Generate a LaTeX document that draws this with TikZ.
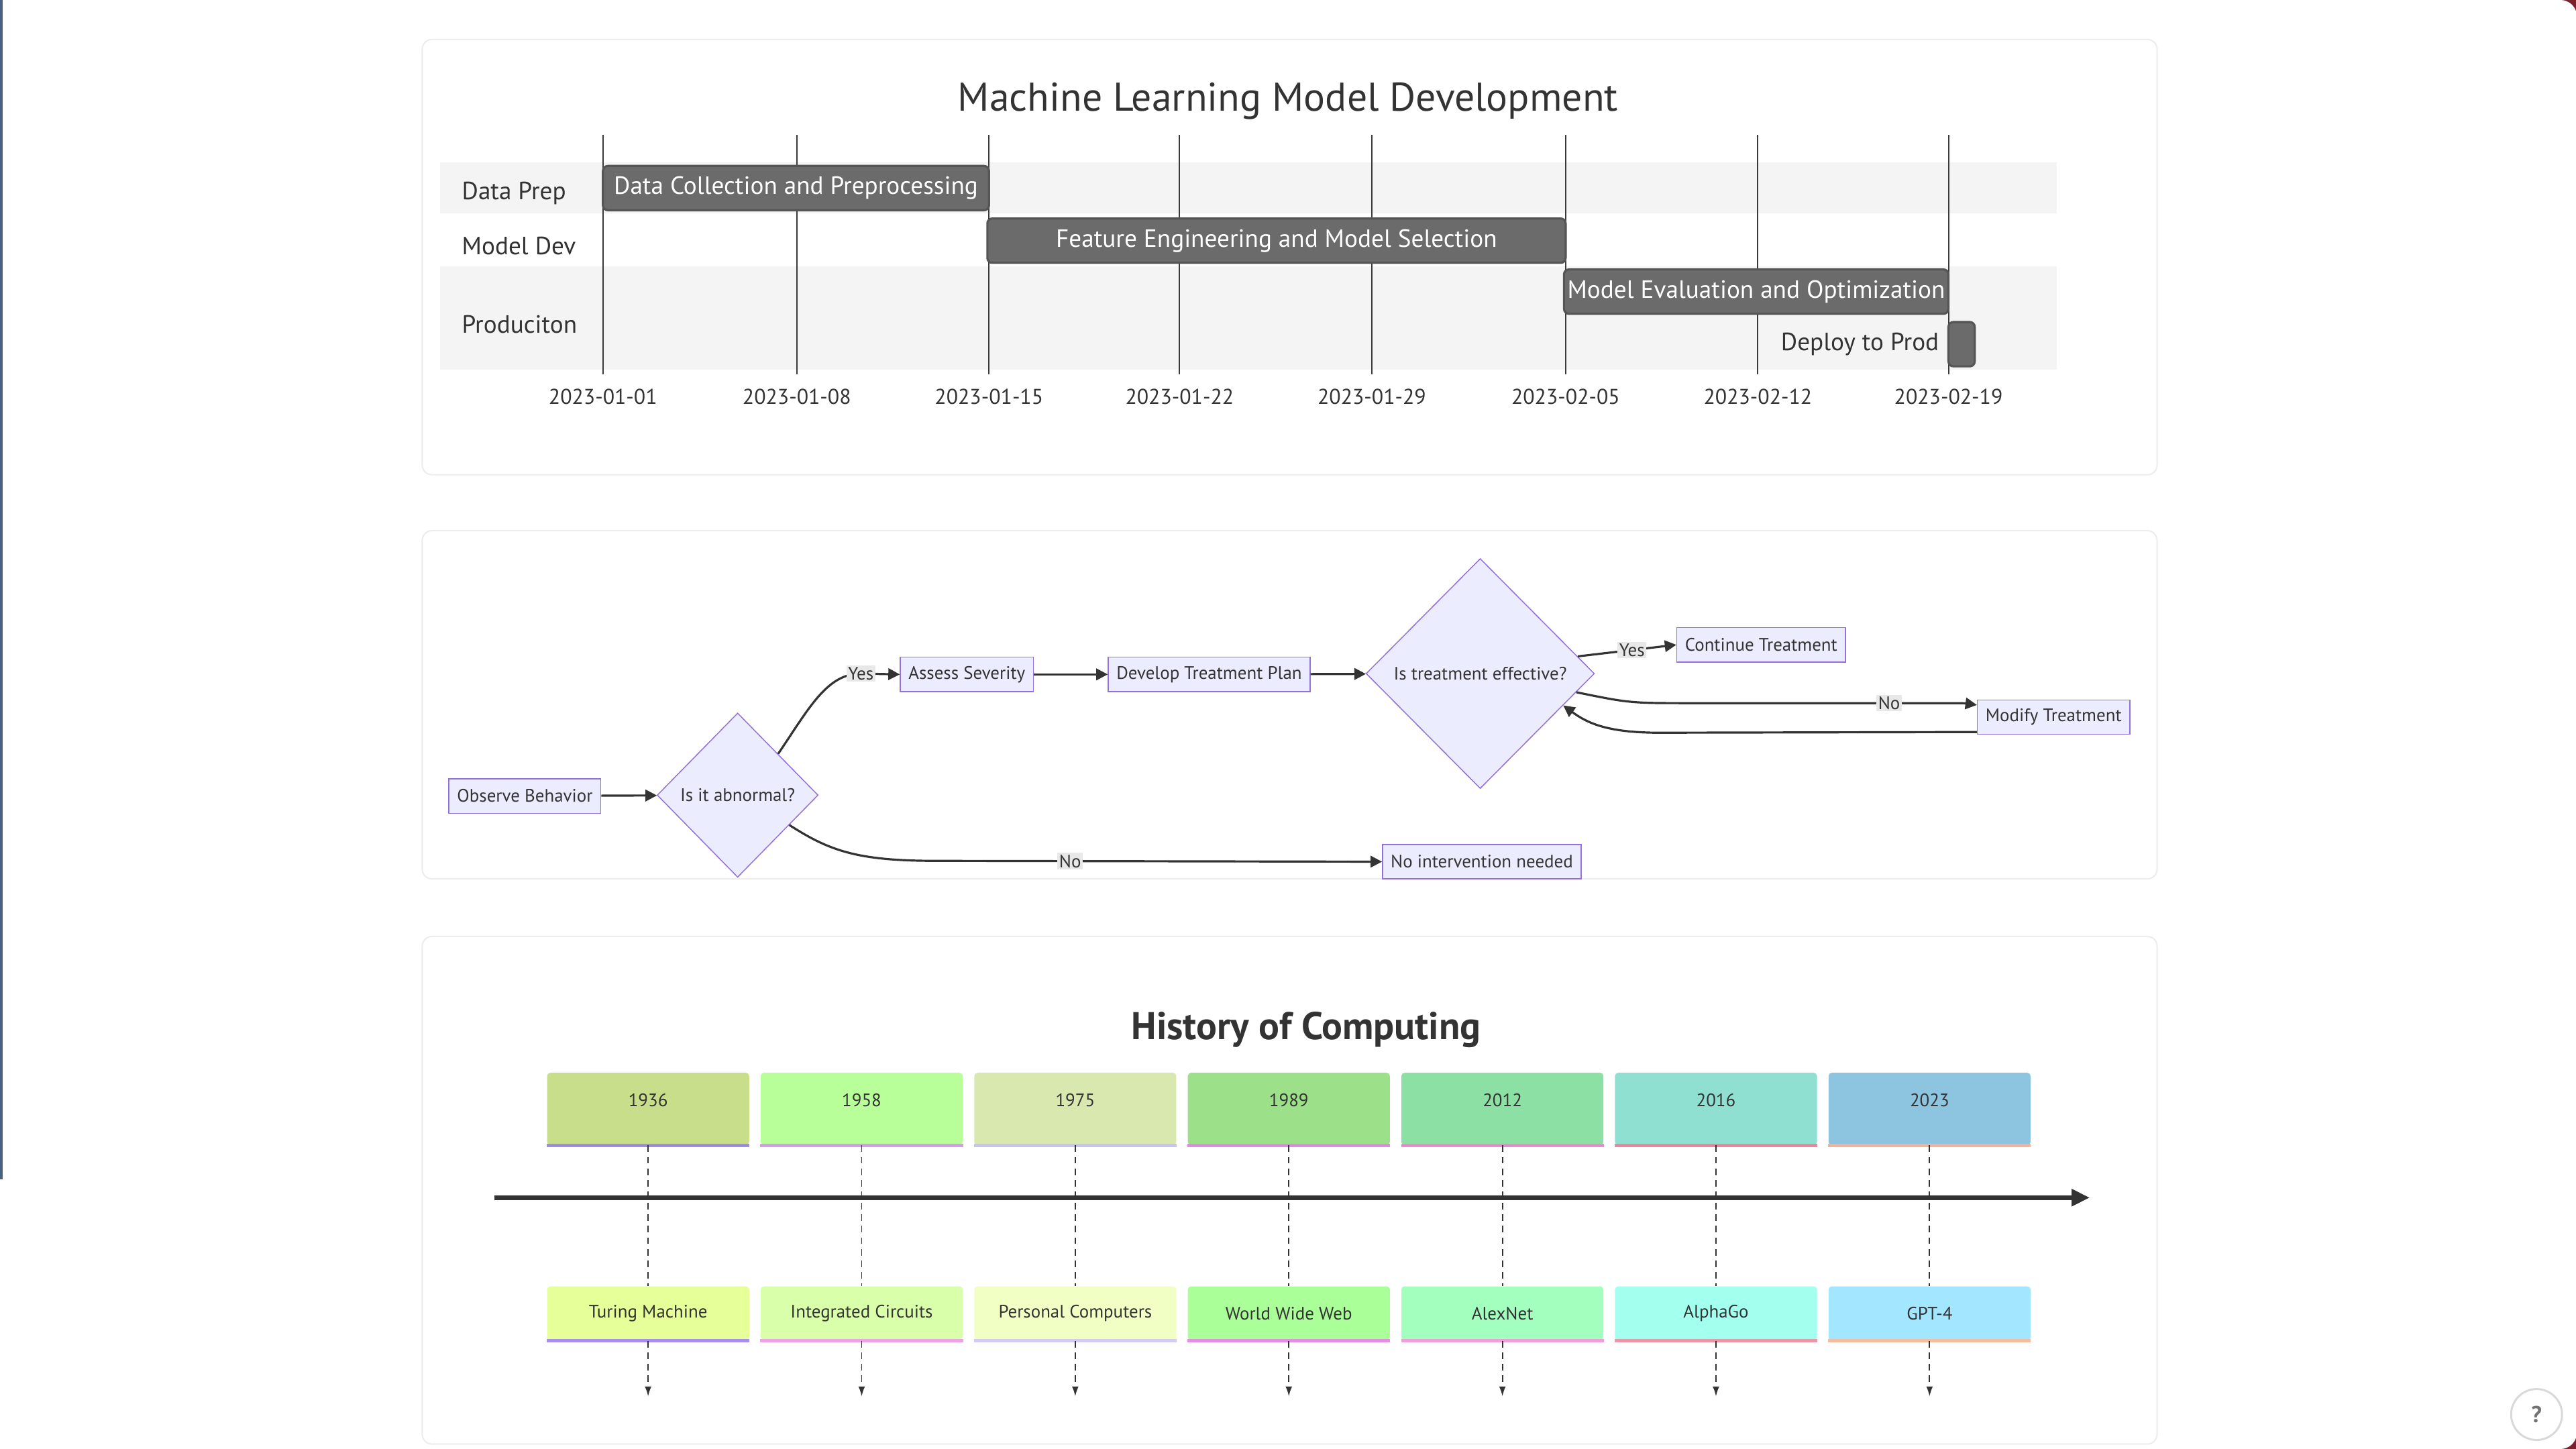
\documentclass[tikz,border=0pt]{standalone}
\usepackage{fontspec}
\setmainfont{PT Sans}
\usepackage{tikz}
\usetikzlibrary{shapes.geometric,arrows.meta,positioning,calc}
\definecolor{ink}{HTML}{333333}
\definecolor{band}{HTML}{F4F4F4}
\definecolor{panelln}{HTML}{ECECEC}
\definecolor{barfill}{HTML}{6B6B6B}
\definecolor{barline}{HTML}{555555}
\definecolor{gridln}{HTML}{3A3A3A}
\definecolor{mmfill}{HTML}{ECECFF}
\definecolor{mmline}{HTML}{9370DB}
\definecolor{lblbg}{HTML}{E8E8E8}
\definecolor{edgeblue}{HTML}{4A6080}
\definecolor{cornerred}{HTML}{7A1F2B}
% timeline colours: year box, year rule, event box, event rule
\definecolor{yr1}{HTML}{C8DE8A}\definecolor{yl1}{HTML}{9E8EE0}\definecolor{ev1}{HTML}{E6FF99}\definecolor{el1}{HTML}{A78EF0}
\definecolor{yr2}{HTML}{B9FF99}\definecolor{yl2}{HTML}{D79EE8}\definecolor{ev2}{HTML}{D9FFAA}\definecolor{el2}{HTML}{F0A2E8}
\definecolor{yr3}{HTML}{D8E8AE}\definecolor{yl3}{HTML}{C8C4EE}\definecolor{ev3}{HTML}{F2FFC4}\definecolor{el3}{HTML}{D4CCF4}
\definecolor{yr4}{HTML}{9DE08A}\definecolor{yl4}{HTML}{DA8EDD}\definecolor{ev4}{HTML}{AAFF99}\definecolor{el4}{HTML}{E68EE6}
\definecolor{yr5}{HTML}{8DE0A4}\definecolor{yl5}{HTML}{E68ECB}\definecolor{ev5}{HTML}{A3FFBE}\definecolor{el5}{HTML}{F09EDC}
\definecolor{yr6}{HTML}{8FE0D0}\definecolor{yl6}{HTML}{E6889E}\definecolor{ev6}{HTML}{A3FFEE}\definecolor{el6}{HTML}{E896A8}
\definecolor{yr7}{HTML}{8DC4E0}\definecolor{yl7}{HTML}{F0B49A}\definecolor{ev7}{HTML}{A3E6FF}\definecolor{el7}{HTML}{F6BCA0}
\tikzset{
  panel/.style={draw=panelln,fill=white,line width=0.8pt,rounded corners=6pt},
  sect/.style={font=\fontsize{15.2}{17}\selectfont,text=ink,inner sep=0pt},
  datelbl/.style={font=\fontsize{13}{15}\selectfont,text=ink,inner sep=0pt},
  bar/.style={rectangle,rounded corners=3pt,fill=barfill,draw=barline,line width=1.3pt,
              minimum height=27,inner xsep=0pt,text=white,font=\fontsize{15.2}{17}\selectfont},
  fbox/.style={rectangle,draw=mmline,fill=mmfill,line width=0.6pt,minimum height=21,
               inner xsep=5pt,inner ysep=0pt,font=\fontsize{11}{13}\selectfont,text=ink},
  fdec/.style={diamond,draw=mmline,fill=mmfill,line width=0.6pt,inner sep=0pt,
               font=\fontsize{11}{13}\selectfont,text=ink},
  flow/.style={-{Triangle[length=7pt,width=7pt]},line width=1.3pt,draw=ink},
  elabel/.style={fill=lblbg,inner sep=1pt,font=\fontsize{11}{13}\selectfont,text=ink},
  tdash/.style={draw=ink,line width=0.8pt,dash pattern=on 4pt off 3pt},
}
\begin{document}
\begin{tikzpicture}[x=1pt,y=-1pt,
  yrbox/.style={rectangle,rounded corners=2pt,minimum width=123,minimum height=44,inner sep=0pt},
  evbox/.style={rectangle,rounded corners=2pt,minimum width=123,minimum height=33,inner sep=0pt,
                font=\fontsize{11}{13}\selectfont,text=ink},
  tltext/.style={font=\fontsize{11}{13}\selectfont,text=ink,inner sep=0pt}]
  \useasboundingbox (0,0) rectangle (1568,882);
  \fill[cornerred] (1554,0) rectangle (1568,14);
  \fill[cornerred] (1554,868) rectangle (1568,882);
  \fill[white,sharp corners] (0,882) -- (0,0) [rounded corners=10pt] -- (1568.5,0) -- (1568.5,882) [sharp corners] -- (0,882) -- cycle;
  \fill[edgeblue] (0,0) rectangle (1.6,718);

  % gantt
  \draw[panel] (257,24) rectangle (1313,289);
  \node[font=\fontsize{24.4}{28}\selectfont,text=ink] (gTitle) at (784,61.5) {Machine Learning Model Development};
  \fill[band] (268,99) rectangle (1252,130);
  \fill[band] (268,162) rectangle (1252,225);
  \foreach \x/\d in {367/2023-01-01, 485/2023-01-08, 602/2023-01-15, 718/2023-01-22,
                     835/2023-01-29, 953/2023-02-05, 1070/2023-02-12, 1186/2023-02-19}{
    \draw[gridln,line width=0.8pt] (\x,82) -- (\x,228);
    \node[datelbl] (d\x) at (\x,241.5) {\d};
  }
  \node[sect,anchor=west] (sData) at (281,117.5) {Data Prep};
  \node[sect,anchor=west] (sModel) at (281,149.5) {Model Dev};
  \node[sect,anchor=west] (sProd) at (281,197.5) {Produciton};
  \node[bar,minimum width=235] (tCollect) at (484.5,114.5) {Data Collection and Preprocessing};
  \node[bar,minimum width=352] (tFeature) at (777,146.5) {Feature Engineering and Model Selection};
  \node[bar,minimum width=234] (tEval) at (1069,177.5) {Model Evaluation and Optimization};
  \node[bar,minimum width=16] (tDeploy) at (1194,209.5) {};
  \node[sect,left=5pt of tDeploy] (tDeployLbl) {Deploy to Prod};

  % flowchart
  \draw[panel] (257,323) rectangle (1313,535);
  \node[fbox] (obs) at (319.5,484.5) {Observe Behavior};
  \node[fdec,minimum width=98,minimum height=100] (abn) at (449,484) {Is it abnormal?};
  \node[fbox] (sev) at (588.5,410.5) {Assess Severity};
  \node[fbox] (plan) at (736,410.5) {Develop Treatment Plan};
  \node[fdec,minimum width=139,minimum height=140] (eff) at (901,410) {Is treatment effective?};
  \node[fbox] (cont) at (1072,392.5) {Continue Treatment};
  \node[fbox] (mod) at (1250,436.5) {Modify Treatment};
  \node[fbox] (noint) at (902,524.5) {No intervention needed};
  \draw[flow] (obs) -- (abn);
  \draw[flow] (abn.north east) .. controls (492,432) and (503,410) .. (524,410)
    node[elabel] {Yes} -- (sev.west);
  \draw[flow] (sev) -- (plan);
  \draw[flow] (plan) -- (eff);
  \draw[flow] (eff.10) -- node[elabel,pos=0.55] {Yes} (cont.west);
  \draw[flow] (eff.-11) .. controls (992,428) .. (1030,428)
    -- node[elabel,pos=0.81] {No} (1178,428) .. controls (1195,428) .. (mod.171);
  \draw[flow] (mod.191) -- (1010,446) .. controls (978,446) and (966,440) .. (eff.-21);
  \draw[flow] (abn.-30) .. controls (505,518) and (522,524) .. (570,524)
    -- node[elabel,pos=0.3] {No} (noint.west);

  % timeline
  \draw[panel] (257,570) rectangle (1313,879);
  \node[font=\bfseries\fontsize{23.5}{27}\selectfont,text=ink] (hTitle) at (795,627) {History of Computing};
  \coordinate (axL) at (301,729);
  \coordinate (axR) at (1272,729);
  \draw[draw=ink,line width=2.6pt,-{Triangle[length=11pt,width=10pt]}] (axL) -- (axR);
  \foreach \i/\x/\yr/\ev in {1/394.5/1936/Turing Machine, 2/524.5/1958/Integrated Circuits,
      3/654.5/1975/Personal Computers, 4/784.5/1989/World Wide Web, 5/914.5/2012/AlexNet,
      6/1044.5/2016/AlphaGo, 7/1174.5/2023/GPT-4}{
    \node[yrbox,fill=yr\i] (y\i) at (\x,675) {};
    \node[tltext] (yt\i) at (\x,669.5) {\yr};
    \draw[draw=yl\i,line width=2pt] (y\i.south west) -- (y\i.south east);
    \node[evbox,fill=ev\i] (e\i) at (\x,799.5) {\ev};
    \draw[draw=el\i,line width=2pt] (e\i.south west) -- (e\i.south east);
    \coordinate (t\i) at (\x,850);
    \draw[tdash] (y\i.south) -- (e\i.north);
    \draw[tdash,-{Latex[length=6pt,width=4pt]}] (e\i.south) -- (t\i);
  }

  \node[circle,draw=black!15,line width=1.2pt,fill=white,minimum size=31,inner sep=0pt,
        text=black!55,font=\bfseries\fontsize{14}{16}\selectfont] (help) at (1544,861) {?};
\end{tikzpicture}
\end{document}
